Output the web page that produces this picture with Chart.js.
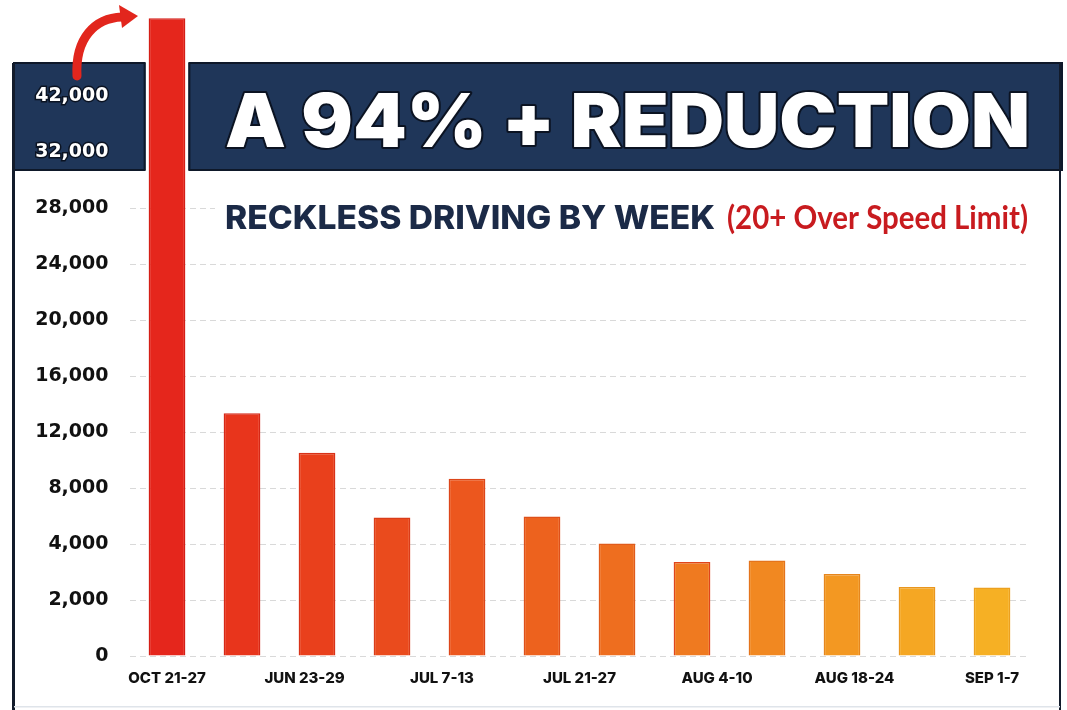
<!DOCTYPE html>
<html><head><meta charset="utf-8">
<script src="https://cdn.jsdelivr.net/npm/chart.js@4"></script>
<style>html,body{margin:0;padding:0;background:#fff;overflow:hidden}#wrap{width:1067px;height:710px;position:relative}</style>
</head><body><div id="wrap"><canvas id="c"></canvas></div>
<script>
// ---- data ----
const weeks = ['OCT 21-27','JUN 23-29','JUN 30-JUL 6','JUL 7-13','JUL 14-20','JUL 21-27','JUL 28-AUG 3','AUG 4-10','AUG 11-17','AUG 18-24','AUG 25-31','SEP 1-7'];
const tickedWeeks = ['OCT 21-27','JUN 23-29','JUL 7-13','JUL 21-27','AUG 4-10','AUG 18-24','SEP 1-7'];
const recklessCounts = [56000, 13350, 10540, 5900, 8675, 5975, 4040, 3360, 3410, 2930, 2470, 2445];
const yTickValues = [0, 2000, 4000, 8000, 12000, 16000, 20000, 24000, 28000, 32000, 42000];
const yTickLabels = ['0','2,000','4,000','8,000','12,000','16,000','20,000','24,000','28,000','32,000','42,000'];
const barColors = ['#e5261c','#e8351c','#e9401c','#ea4b1d','#ec571e','#ed621e','#ee6e1f','#ef7a20','#f18821','#f39822','#f5a723','#f6b024'];
const barBorders = ['#d41e16','#d62817','#d83218','#da3c19','#dc461a','#de501a','#e05b1b','#e0451b','#e4741c','#e6861d','#e9961e','#eca01f'];
const titleText = 'A 94% + REDUCTION';
const subtitleText = 'RECKLESS DRIVING BY WEEK';
const subtitleNote = '(20+ Over Speed Limit)';

// piecewise value -> tick-index position (the chart's y axis is not linear)
function toIdx(v){
  for (let i = 0; i < yTickValues.length - 1; i++){
    if (v <= yTickValues[i+1]) return i + (v - yTickValues[i]) / (yTickValues[i+1] - yTickValues[i]);
  }
  const n = yTickValues.length - 1;
  return n + (v - yTickValues[n]) / (yTickValues[n] - yTickValues[n-1]);
}

const Y_MAX = 11.5;
const NAVY = '#1f3659';
const decor = {
  id: 'decor',
  beforeDraw(chart){
    const ctx = chart.ctx;
    ctx.save();
    // header band
    ctx.fillStyle = NAVY;
    ctx.fillRect(14, 63, 1048, 107);
    ctx.strokeStyle = '#0e1829';
    ctx.lineWidth = 2;
    ctx.strokeRect(14, 63, 1048, 107);
    // gap around the first bar
    const b = chart.getDatasetMeta(0).data[0];
    const g0 = b.x - b.width/2 - 3, g1 = b.x + b.width/2 + 3;
    ctx.fillStyle = '#ffffff';
    ctx.fillRect(g0, 62, g1 - g0, 110);
    ctx.fillStyle = '#0e1829';
    ctx.fillRect(g0 - 2, 63, 2, 107);
    ctx.fillRect(g1, 63, 2, 107);
    // frame
    ctx.fillStyle = '#121b2b';
    ctx.fillRect(12, 63, 3, 647);
    ctx.fillRect(1059, 63, 2, 647);
    ctx.fillStyle = '#dfe4ea';
    ctx.fillRect(14, 706, 1046, 1.5);
    // title
    ctx.font = '900 74px Inter';
    ctx.textBaseline = 'alphabetic';
    const w = ctx.measureText(titleText).width;
    ctx.save();
    ctx.translate(225, 147);
    ctx.scale(805 / w, 1);
    ctx.lineJoin = 'round';
    ctx.lineWidth = 4;
    ctx.strokeStyle = '#0b1322';
    ctx.strokeText(titleText, 0, 0);
    ctx.fillStyle = '#ffffff';
    ctx.fillText(titleText, 0, 0);
    ctx.restore();
    ctx.restore();
  },
  beforeDatasetsDraw(chart){
    const ctx = chart.ctx;
    ctx.save();
    ctx.fillStyle = '#ffffff';
    ctx.fillRect(215, 196, 820, 44);
    ctx.textBaseline = 'alphabetic';
    ctx.font = '800 33px Inter';
    let w = ctx.measureText(subtitleText).width;
    ctx.save();
    ctx.translate(225, 229);
    ctx.scale(490 / w, 1);
    ctx.fillStyle = '#1b2a47';
    ctx.fillText(subtitleText, 0, 0);
    ctx.restore();
    ctx.font = '700 33px Lato';
    w = ctx.measureText(subtitleNote).width;
    ctx.save();
    ctx.translate(727, 229);
    ctx.scale(301 / w, 1);
    ctx.fillStyle = '#c81b1f';
    ctx.fillText(subtitleNote, 0, 0);
    ctx.restore();
    ctx.restore();
  },
  afterDraw(chart){
    const ctx = chart.ctx;
    ctx.save();
    ctx.strokeStyle = '#e2261d';
    ctx.fillStyle = '#e2261d';
    ctx.lineWidth = 9;
    ctx.lineCap = 'round';
    ctx.beginPath();
    ctx.moveTo(77, 76);
    ctx.bezierCurveTo(75, 38, 95, 18, 122, 17);
    ctx.stroke();
    ctx.beginPath();
    ctx.moveTo(119, 5);
    ctx.lineTo(138, 16);
    ctx.lineTo(122, 28);
    ctx.closePath();
    ctx.fill();
    ctx.restore();
  }
};

new Chart(document.getElementById('c'), {
  type: 'bar',
  data: {
    labels: weeks,
    datasets: [{
      data: recklessCounts.map(toIdx),
      backgroundColor: barColors,
      borderColor: barBorders,
      borderWidth: 1.5,
      barPercentage: 0.49,
      categoryPercentage: 1
    }]
  },
  options: {
    responsive: true,
    maintainAspectRatio: false,
    animation: false,
    layout: { padding: { left: 0, right: 37.5, top: 12.6, bottom: 0 } },
    plugins: { legend: { display: false }, tooltip: { enabled: false } },
    scales: {
      x: { display: false },
      xl: {
        type: 'linear', position: 'bottom', offset: false, bounds: 'data', min: -0.5, max: weeks.length - 0.5,
        grid: { display: false, drawTicks: false, offset: false },
        border: { display: false },
        afterBuildTicks(s){
          s.ticks = tickedWeeks.map((_, i) => ({ value: i * (weeks.length - 1) / (tickedWeeks.length - 1) }));
          s.min = -0.5; s.max = weeks.length - 0.5;
        },
        afterFit(s){ s.height = 54; },
        ticks: {
          autoSkip: false, maxRotation: 0, padding: 13,
          color: '#111111',
          font: { family: 'Inter', weight: '800', size: 15 },
          callback: (v, i) => tickedWeeks[i]
        }
      },
      y: {
        bounds: 'data', min: 0, max: Y_MAX,
        afterBuildTicks(s){
          s.ticks = yTickLabels.map((_, i) => ({ value: i }));
          s.min = 0; s.max = Y_MAX;
        },
        afterFit(s){ s.width = 129.5; s.paddingTop = 0; s.paddingBottom = 0; },
        grid: {
          drawTicks: false,
          color: c => (c.index >= 9 ? 'rgba(0,0,0,0)' : '#d9d9d9'),
          lineWidth: 1
        },
        border: { display: false, dash: [6, 4] },
        ticks: {
          padding: 21,
          font: { family: 'DejaVu Sans', weight: 'bold', size: 19 },
          color: c => (c.index >= 9 ? '#ffffff' : '#111111'),
          textStrokeColor: '#0b1322',
          textStrokeWidth: c => (c.index >= 9 ? 3 : 0),
          callback: (v, i) => yTickLabels[i]
        }
      }
    }
  },
  plugins: [decor]
});
</script>
</body></html>
